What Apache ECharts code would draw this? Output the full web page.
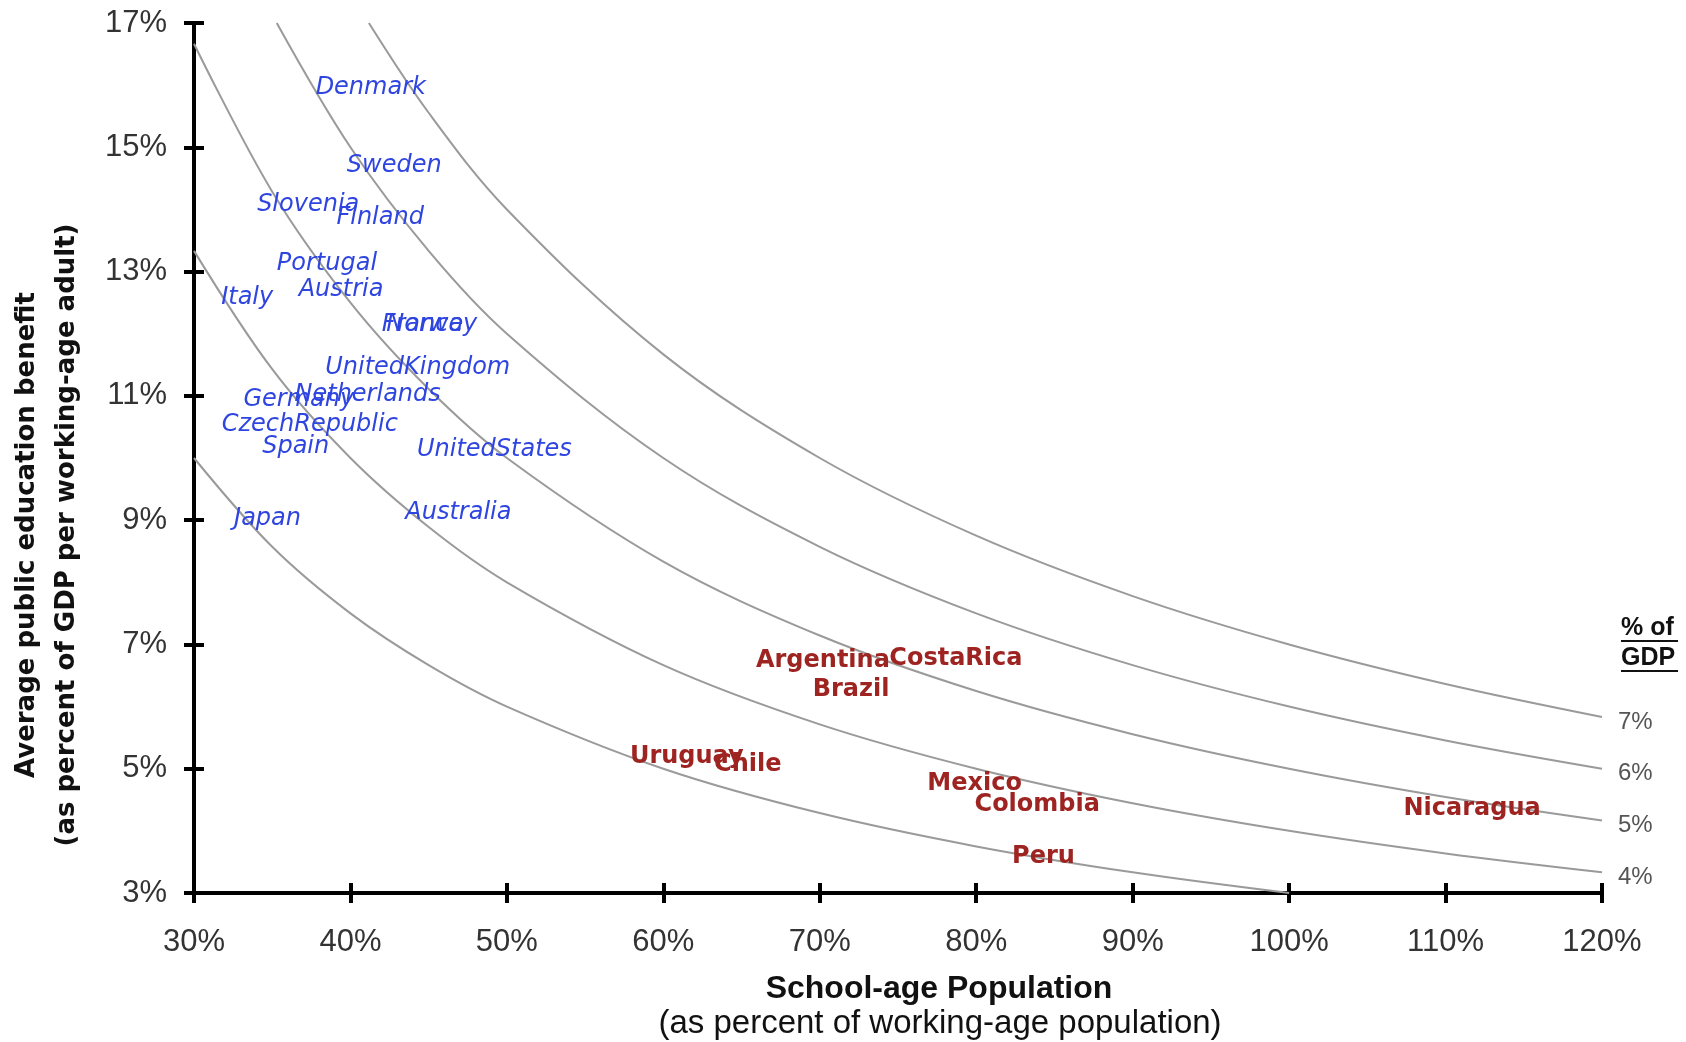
<!DOCTYPE html>
<html>
<head>
<meta charset="utf-8">
<script src="https://cdn.jsdelivr.net/npm/echarts@6/dist/echarts.min.js"></script>
<style>
  html, body { margin: 0; padding: 0; background: #ffffff; }
  #chart { width: 1686px; height: 1042px; }
</style>
</head>
<body>
<div id="chart"></div>
<script>
// ---- Data ----
const xTicks = [30, 40, 50, 60, 70, 80, 90, 100, 110, 120];
const yTicks = [3, 5, 7, 9, 11, 13, 15, 17];

// Iso-lines of total public education spending (% of GDP)
const isoLabels = ['3%', '4%', '5%', '6%', '7%'];
const iso3 = [[30,10],[35,8.571],[40,7.5],[45,6.667],[50,6],[60,5],[70,4.286],[80,3.75],[90,3.333],[100,3]];
const iso4 = [[30,13.333],[35,11.429],[40,10],[45,8.889],[50,8],[60,6.667],[70,5.714],[80,5],[90,4.444],[100,4],[110,3.636],[120,3.333]];
const iso5 = [[30,16.667],[35,14.286],[40,12.5],[45,11.111],[50,10],[60,8.333],[70,7.143],[80,6.25],[90,5.556],[100,5],[110,4.545],[120,4.167]];
const iso6 = [[35.29,17],[40,15],[45,13.333],[50,12],[60,10],[70,8.571],[80,7.5],[90,6.667],[100,6],[110,5.455],[120,5]];
const iso7 = [[41.18,17],[45,15.556],[50,14],[60,11.667],[70,10],[80,8.75],[90,7.778],[100,7],[110,6.364],[120,5.833]];

// OECD countries (blue)
const oecdNames = ['Denmark','Sweden','Slovenia','Finland','Portugal','Austria','Italy','France','Norway','UnitedKingdom','Netherlands','Germany','CzechRepublic','Spain','UnitedStates','Japan','Australia'];
const oecdX =     [41.3, 42.8, 37.3, 41.9, 38.5, 39.4, 33.4, 44.6, 45.2, 44.3, 41.1, 36.7, 37.4, 36.5, 49.2, 34.7, 46.9];
const oecdY =     [15.96,14.70,14.08,13.87,13.13,12.71,12.58,12.14,12.14,11.46,11.01,10.93,10.53,10.18,10.13,9.03, 9.12];

// Latin American countries (red)
const latamNames = ['Argentina','CostaRica','Brazil','Uruguay','Chile','Mexico','Colombia','Peru','Nicaragua'];
const latamX =     [70.2, 78.7, 72.0, 61.5, 65.4, 79.9, 83.9, 84.3, 111.7];
const latamY =     [6.73, 6.77, 6.27, 5.20, 5.07, 4.75, 4.42, 3.59, 4.35];

// ---- Build chart ----
const chart = echarts.init(document.getElementById('chart'), null, { renderer: 'canvas' });

const isoData = [iso3, iso4, iso5, iso6, iso7];
const isoSeries = isoData.map((d, i) => ({
  type: 'line',
  name: isoLabels[i],
  data: d,
  smooth: 0.35,
  symbol: 'none',
  silent: true,
  z: 2,
  lineStyle: { color: '#9a9a9a', width: 2 },
  endLabel: {
    show: i > 0,
    formatter: isoLabels[i],
    distance: 16,
    offset: [0, 5],
    color: '#555555',
    fontFamily: 'Liberation Sans',
    fontSize: 24
  }
}));

function labelSeries(names, xs, ys, color, style, weight) {
  return {
    type: 'scatter',
    symbolSize: 0,
    silent: true,
    z: 5,
    itemStyle: { opacity: 1 },
    data: names.map((n, i) => ({ name: n, value: [xs[i], ys[i]] })),
    label: {
      show: true,
      position: 'inside',
      formatter: p => p.name,
      color: color,
      opacity: 1,
      fontFamily: 'DejaVu Sans',
      fontStyle: style,
      fontWeight: weight,
      fontSize: 24
    }
  };
}

const axisLineStyle = { color: '#000', width: 4 };
const tickFont = { color: '#333', fontFamily: 'Liberation Sans', fontSize: 31 };

const option = {
  backgroundColor: '#ffffff',
  animation: false,
  grid: { left: 194, right: 84, top: 23, bottom: 149, containLabel: false },
  xAxis: [
    {
      type: 'value', min: 30, max: 120, interval: 10, position: 'bottom',
      axisLine: { show: true, lineStyle: axisLineStyle },
      axisTick: { show: true, length: 10, lineStyle: { color: '#000', width: 4 } },
      axisLabel: Object.assign({ margin: 34, formatter: '{value}%' }, tickFont),
      splitLine: { show: false }
    },
    {
      type: 'value', min: 30, max: 120, interval: 10, position: 'bottom',
      axisLine: { show: false },
      axisTick: { show: true, inside: true, length: 10, lineStyle: { color: '#000', width: 4 } },
      axisLabel: { show: false },
      splitLine: { show: false }
    }
  ],
  yAxis: [
    {
      type: 'value', min: 3, max: 17, interval: 2, position: 'left',
      axisLine: { show: true, lineStyle: axisLineStyle },
      axisTick: { show: true, length: 10, lineStyle: { color: '#000', width: 4 } },
      axisLabel: Object.assign({ margin: 27, formatter: '{value}%' }, tickFont),
      splitLine: { show: false }
    },
    {
      type: 'value', min: 3, max: 17, interval: 2, position: 'left',
      axisLine: { show: false },
      axisTick: { show: true, inside: true, length: 10, lineStyle: { color: '#000', width: 4 } },
      axisLabel: { show: false },
      splitLine: { show: false }
    }
  ],
  series: isoSeries.concat([
    labelSeries(oecdNames, oecdX, oecdY, '#2f45e0', 'italic', 'normal'),
    labelSeries(latamNames, latamX, latamY, '#9e2422', 'normal', 'bold')
  ]),
  graphic: [
    {
      type: 'text', x: 47, y: 535, rotation: Math.PI / 2,
      style: {
        text: 'Average public education benefit\n(as percent of GDP per working-age adult)',
        align: 'center', verticalAlign: 'middle',
        fontFamily: 'DejaVu Sans', fontWeight: 'bold', fontSize: 26, lineHeight: 40,
        fill: '#111'
      }
    },
    {
      type: 'text', x: 939, y: 989,
      style: {
        text: 'School-age Population',
        align: 'center', verticalAlign: 'middle',
        fontFamily: 'Liberation Sans', fontWeight: 'bold', fontSize: 32, fill: '#111'
      }
    },
    {
      type: 'text', x: 940, y: 1024,
      style: {
        text: '(as percent of working-age population)',
        align: 'center', verticalAlign: 'middle',
        fontFamily: 'Liberation Sans', fontWeight: 'normal', fontSize: 33, fill: '#111'
      }
    },
    {
      type: 'text', x: 1621, y: 628,
      style: {
        text: '% of', align: 'left', verticalAlign: 'middle',
        fontFamily: 'Liberation Sans', fontWeight: 'bold', fontSize: 25, fill: '#111'
      }
    },
    {
      type: 'text', x: 1621, y: 658,
      style: {
        text: 'GDP', align: 'left', verticalAlign: 'middle',
        fontFamily: 'Liberation Sans', fontWeight: 'bold', fontSize: 25, fill: '#111'
      }
    },
    { type: 'line', shape: { x1: 1621, y1: 641, x2: 1678, y2: 641 }, style: { stroke: '#111', lineWidth: 2 } },
    { type: 'line', shape: { x1: 1621, y1: 671, x2: 1678, y2: 671 }, style: { stroke: '#111', lineWidth: 2 } }
  ]
};

chart.setOption(option);
</script>
</body>
</html>
